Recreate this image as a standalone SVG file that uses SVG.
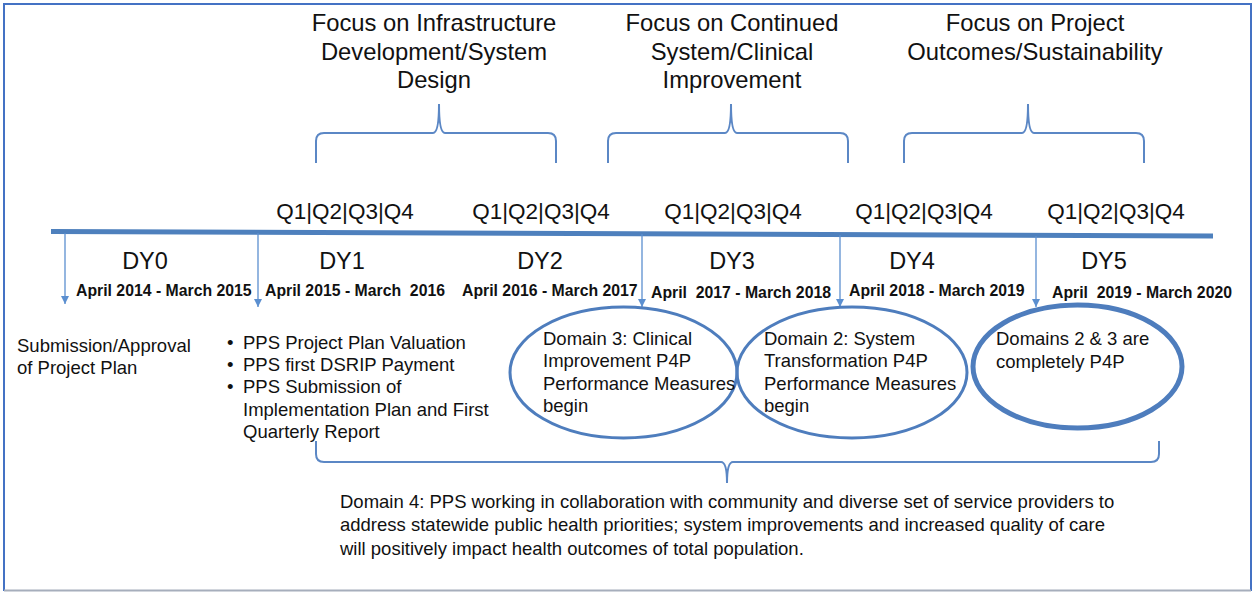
<svg xmlns="http://www.w3.org/2000/svg" width="1254" height="592" viewBox="0 0 1254 592">
<style>
text{font-family:"Liberation Sans",Arial,sans-serif;fill:#111}
.focus{font-size:23.8px;text-anchor:middle}
.q{font-size:22.5px;text-anchor:middle}
.dy{font-size:23.5px;text-anchor:middle}
.date{font-size:15.8px;font-weight:bold}
.body{font-size:18.5px}
.d4{font-size:18.5px}
.brace{fill:none;stroke:#5B87C5;stroke-width:2}
.ell{fill:none;stroke:#4E7DBD;stroke-width:3}
.thick{stroke-width:5}
.arrow{stroke:#5B8FD0;stroke-width:1.3;fill:none;marker-end:url(#ah)}
</style>
<defs>
<marker id="ah" viewBox="0 0 10 10" refX="10" refY="5" markerWidth="8" markerHeight="8" markerUnits="userSpaceOnUse" orient="auto">
<path d="M0,0 L10,5 L0,10 z" fill="#5B8FD0"/>
</marker>
</defs>
<rect x="0" y="0" width="1254" height="592" fill="#fff"/>
<g id="frame">
<path d="M4,591 L4,4 L1251,4 L1251,591" fill="none" stroke="#4472C4" stroke-width="2"/>
<line x1="4" y1="590.5" x2="1251" y2="590.5" stroke="#A6AEBC" stroke-width="2"/>
</g>
<g id="timeline">
<line x1="51" y1="231.5" x2="1213" y2="236" stroke="#4E80BD" stroke-width="5"/>
</g>
<g id="phase1">
<path class="brace" d="M316,163 L316,141 Q316,133 324,133 L433,133 Q439,133 439,104 Q439,133 445,133 L548,133 Q556,133 556,141 L556,163"/>
<text class="focus" x="434" y="31">Focus on Infrastructure</text>
<text class="focus" x="434" y="60">Development/System</text>
<text class="focus" x="434" y="88">Design</text>
</g>
<g id="phase2">
<path class="brace" d="M608,163 L608,141 Q608,133 616,133 L725,133 Q731,133 731,104 Q731,133 737,133 L840,133 Q848,133 848,141 L848,163"/>
<text class="focus" x="732" y="31">Focus on Continued</text>
<text class="focus" x="732" y="60">System/Clinical</text>
<text class="focus" x="732" y="88">Improvement</text>
</g>
<g id="phase3">
<path class="brace" d="M904,163 L904,141 Q904,133 912,133 L1022,133 Q1028,133 1028,104 Q1028,133 1034,133 L1136,133 Q1144,133 1144,141 L1144,163"/>
<text class="focus" x="1035" y="31">Focus on Project</text>
<text class="focus" x="1035" y="60">Outcomes/Sustainability</text>
</g>
<g id="quarters">
<text class="q" x="345" y="219">Q1|Q2|Q3|Q4</text>
<text class="q" x="541" y="219">Q1|Q2|Q3|Q4</text>
<text class="q" x="733" y="219">Q1|Q2|Q3|Q4</text>
<text class="q" x="924" y="219">Q1|Q2|Q3|Q4</text>
<text class="q" x="1116" y="219">Q1|Q2|Q3|Q4</text>
</g>
<g id="dy0">
<text class="dy" x="145" y="269">DY0</text>
<text class="date" x="76" y="296">April 2014 - March 2015</text>
</g>
<g id="dy1">
<text class="dy" x="342" y="269">DY1</text>
<text class="date" x="265" y="296" xml:space="preserve">April 2015 - March  2016</text>
</g>
<g id="dy2">
<text class="dy" x="540" y="269">DY2</text>
<text class="date" x="462" y="296">April 2016 - March 2017</text>
</g>
<g id="dy3">
<text class="dy" x="732" y="269">DY3</text>
<text class="date" x="651" y="298" xml:space="preserve">April  2017 - March 2018</text>
</g>
<g id="dy4">
<text class="dy" x="912" y="269">DY4</text>
<text class="date" x="849" y="296">April 2018 - March 2019</text>
</g>
<g id="dy5">
<text class="dy" x="1104" y="269">DY5</text>
<text class="date" x="1052" y="298" xml:space="preserve">April  2019 - March 2020</text>
</g>
<g id="connectors">
<line class="arrow" x1="65" y1="233" x2="65" y2="304"/>
<line class="arrow" x1="258" y1="233" x2="258" y2="307"/>
<line class="arrow" x1="642" y1="234" x2="642" y2="307"/>
<line class="arrow" x1="840" y1="235" x2="840" y2="307"/>
<line class="arrow" x1="1036" y1="236" x2="1036" y2="307"/>
</g>
<g id="approval">
<text class="body" x="17" y="352">Submission/Approval</text>
<text class="body" x="17" y="374">of Project Plan</text>
</g>
<g id="milestones">
<text class="body" x="227" y="349">•</text><text class="body" x="243" y="349">PPS Project Plan Valuation</text>
<text class="body" x="227" y="371">•</text><text class="body" x="243" y="371">PPS first DSRIP Payment</text>
<text class="body" x="227" y="393">•</text><text class="body" x="243" y="393">PPS Submission of</text>
<text class="body" x="243" y="416">Implementation Plan and First</text>
<text class="body" x="243" y="438">Quarterly Report</text>
</g>
<g id="domain3">
<ellipse class="ell" cx="623.5" cy="372.5" rx="113.5" ry="65.5"/>
<text class="body" x="543" y="345">Domain 3: Clinical</text>
<text class="body" x="543" y="367">Improvement P4P</text>
<text class="body" x="543" y="390">Performance Measures</text>
<text class="body" x="543" y="412">begin</text>
</g>
<g id="domain2">
<ellipse class="ell" cx="852" cy="372.5" rx="115" ry="65.5"/>
<text class="body" x="764" y="345">Domain 2: System</text>
<text class="body" x="764" y="367">Transformation P4P</text>
<text class="body" x="764" y="390">Performance Measures</text>
<text class="body" x="764" y="412">begin</text>
</g>
<g id="domains23">
<ellipse class="ell thick" cx="1077.5" cy="366.5" rx="104.5" ry="61.5"/>
<text class="body" x="996" y="345">Domains 2 &amp; 3 are</text>
<text class="body" x="996" y="368">completely P4P</text>
</g>
<g id="domain4">
<path class="brace" d="M316,441 L316,454 Q316,462 324,462 L721,462 Q727,462 727,483 Q727,462 733,462 L1151,462 Q1159,462 1159,454 L1159,441"/>
<text class="d4" x="340" y="508">Domain 4: PPS working in collaboration with community and diverse set of service providers to</text>
<text class="d4" x="340" y="531">address statewide public health priorities; system improvements and increased quality of care</text>
<text class="d4" x="340" y="555">will positively impact health outcomes of total population.</text>
</g>
</svg>
